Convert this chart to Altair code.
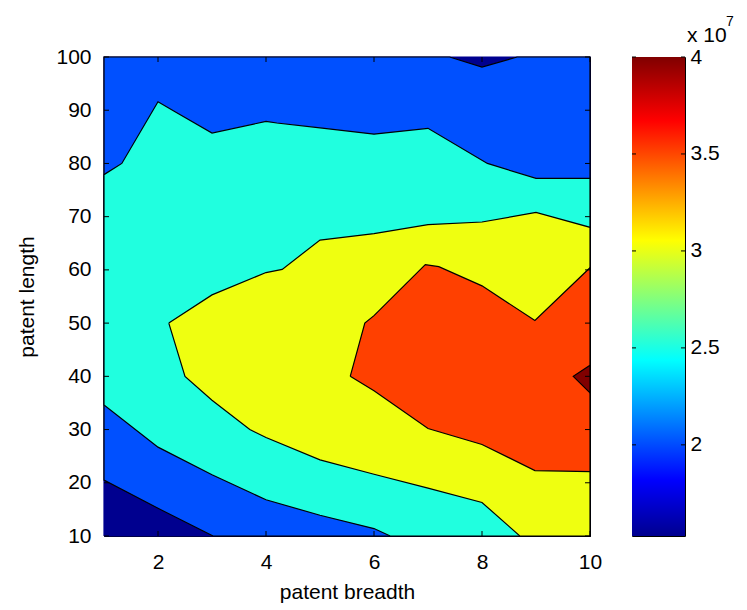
import altair as alt
import pandas as pd

# ---------------- data ----------------
x_domain = [1, 10]
y_domain = [10, 100]
x_ticks = [2, 4, 6, 8, 10]
y_ticks = [10, 20, 30, 40, 50, 60, 70, 80, 90, 100]

cbar_domain = [1.53, 4.0]
cbar_ticks = [2, 2.5, 3, 3.5, 4]
cbar_stop_offsets = [0.0, 0.117, 0.367, 0.617, 0.867, 1.0]
cbar_stop_colors = ["#00008f", "#0000ff", "#00ffff", "#ffff00", "#ff0000", "#800000"]
cbar_multiplier = "x 10"
cbar_exponent = "7"

levels = [1.53, 2.0, 2.5, 3.0, 3.5, 4.0]
level_colors = ["#00008f", "#0050ff", "#20ffdf", "#efff10", "#ff4000", "#800000"]

# filled-contour regions (z >= level), vertices
r0_x = [1, 10, 10, 1, 1]
r0_y = [10, 10, 100, 100, 10]
r1_x = [3.02, 10, 10, 8.65, 8.0, 7.4, 1, 1, 2, 3.02]
r1_y = [10, 10, 100, 100, 98.1, 100, 100, 20.5, 15.2, 10]
r2_x = [1, 1.33, 2, 2.3, 3, 4, 4.2, 5, 6, 7, 8.1, 9, 10, 10, 6.3, 6, 5, 4, 3, 2, 1, 1]
r2_y = [77.9, 80, 91.6, 89.8, 85.7, 87.9, 87.6, 86.7, 85.5, 86.6, 80, 77.2, 77.2,
        10, 10, 11.4, 13.9, 16.8, 21.5, 26.7, 34.6, 77.9]
r3_x = [2.2, 3, 4, 4.3, 5, 6, 7, 8, 9, 10, 10, 8.7, 8, 7, 6, 5, 4, 3.7, 3, 2.5, 2.2]
r3_y = [50, 55.3, 59.5, 60.1, 65.6, 66.8, 68.5, 69.0, 70.8, 68.0, 10, 10, 16.3, 19.0,
        21.6, 24.3, 28.5, 30, 35.5, 40, 50]
r4_x = [5.56, 5.83, 6, 6.95, 7.2, 8, 8.98, 10, 10, 8.98, 8, 7, 6, 5.56]
r4_y = [40, 50, 51.4, 61, 60.6, 57, 50.5, 60.4, 22.1, 22.3, 27.2, 30.2, 37.3, 40]
r5_x = [10, 9.69, 10, 10]
r5_y = [42.1, 40, 36.9, 42.1]

regions_x = [r0_x, r1_x, r2_x, r3_x, r4_x, r5_x]
regions_y = [r0_y, r1_y, r2_y, r3_y, r4_y, r5_y]

# ---------------- layout / style ----------------
W, H = 486, 479
CB_W = 53
FONT = "Liberation Sans"
FS = 21

rows = []
for k, (xs, ys) in enumerate(zip(regions_x, regions_y)):
    for i, (xv, yv) in enumerate(zip(xs, ys)):
        rows.append({"region": k, "i": i, "x": xv, "y": yv})
df = pd.DataFrame(rows)

x_enc = alt.X("x:Q", scale=alt.Scale(domain=x_domain, nice=False, zero=False),
              axis=alt.Axis(values=x_ticks, format="d", title="patent breadth",
                            labelPadding=15, titlePadding=9, labelFlush=False))
y_enc = alt.Y("y:Q", scale=alt.Scale(domain=y_domain, nice=False, zero=False),
              axis=alt.Axis(values=y_ticks, format="d", title="patent length",
                            labelPadding=13, titlePadding=18))

layers = []
for k, col in enumerate(level_colors):
    layers.append(
        alt.Chart(df)
        .transform_filter(alt.datum.region == k)
        .mark_line(fill=col, stroke="black" if k > 0 else col, strokeWidth=1.2,
                   strokeJoin="miter")
        .encode(x=x_enc, y=y_enc, order=alt.Order("i:Q"))
    )

xt = pd.DataFrame({"t": x_ticks})
yt = pd.DataFrame({"t": y_ticks})
tick_layers = [
    alt.Chart(xt).mark_rule(color="black").encode(x="t:Q", y=alt.value(H), y2=alt.value(H - 5)),
    alt.Chart(xt).mark_rule(color="black").encode(x="t:Q", y=alt.value(0), y2=alt.value(5)),
    alt.Chart(yt).mark_rule(color="black").encode(y="t:Q", x=alt.value(0), x2=alt.value(5)),
    alt.Chart(yt).mark_rule(color="black").encode(y="t:Q", x=alt.value(W), x2=alt.value(W - 5)),
]

main = alt.layer(*layers, *tick_layers).properties(width=W, height=H)

# ---------------- colorbar ----------------
cb_df = pd.DataFrame({"lo": [cbar_domain[0]], "hi": [cbar_domain[1]]})
grad = alt.Gradient(
    gradient="linear",
    stops=[alt.GradientStop(offset=o, color=c) for o, c in zip(cbar_stop_offsets, cbar_stop_colors)],
    x1=0, x2=0, y1=1, y2=0,
)
cb_y = alt.Y("lo:Q", scale=alt.Scale(domain=cbar_domain, nice=False, zero=False),
             axis=alt.Axis(orient="right", values=cbar_ticks, format="~g", title=None,
                           labelPadding=5))
cbar_rect = alt.Chart(cb_df).mark_rect(fill=grad).encode(
    y=cb_y, y2="hi:Q", x=alt.value(0), x2=alt.value(CB_W)
)
ct = pd.DataFrame({"t": cbar_ticks})
cb_ticks_l = alt.Chart(ct).mark_rule(color="black").encode(y="t:Q", x=alt.value(0), x2=alt.value(4))
cb_ticks_r = alt.Chart(ct).mark_rule(color="black").encode(y="t:Q", x=alt.value(CB_W), x2=alt.value(CB_W - 4))

mult_text = alt.Chart(cb_df).mark_text(
    align="left", baseline="alphabetic", font=FONT, fontSize=FS, color="black"
).encode(x=alt.value(55), y=alt.value(-15), text=alt.value(cbar_multiplier))
exp_text = alt.Chart(cb_df).mark_text(
    align="left", baseline="alphabetic", font=FONT, fontSize=14, color="black"
).encode(x=alt.value(94), y=alt.value(-31), text=alt.value(cbar_exponent))

cbar = alt.layer(cbar_rect, cb_ticks_l, cb_ticks_r, mult_text, exp_text).properties(
    width=CB_W, height=H
)

chart = (
    alt.hconcat(main, cbar, spacing=42, bounds="flush")
    .properties(padding={"left": 16, "top": 14, "right": 5, "bottom": 5})
    .configure_view(stroke="black", strokeWidth=1)
    .configure_axis(labelFont=FONT, labelFontSize=FS, titleFont=FONT, titleFontSize=FS,
                    titleFontWeight="normal", labelColor="black", titleColor="black",
                    grid=False, domain=False, ticks=False, tickSize=0)
    .configure_title(font=FONT, fontSize=FS, fontWeight="normal")
)

chart.save("out.html", embed_options={"renderer": "svg", "actions": False})
